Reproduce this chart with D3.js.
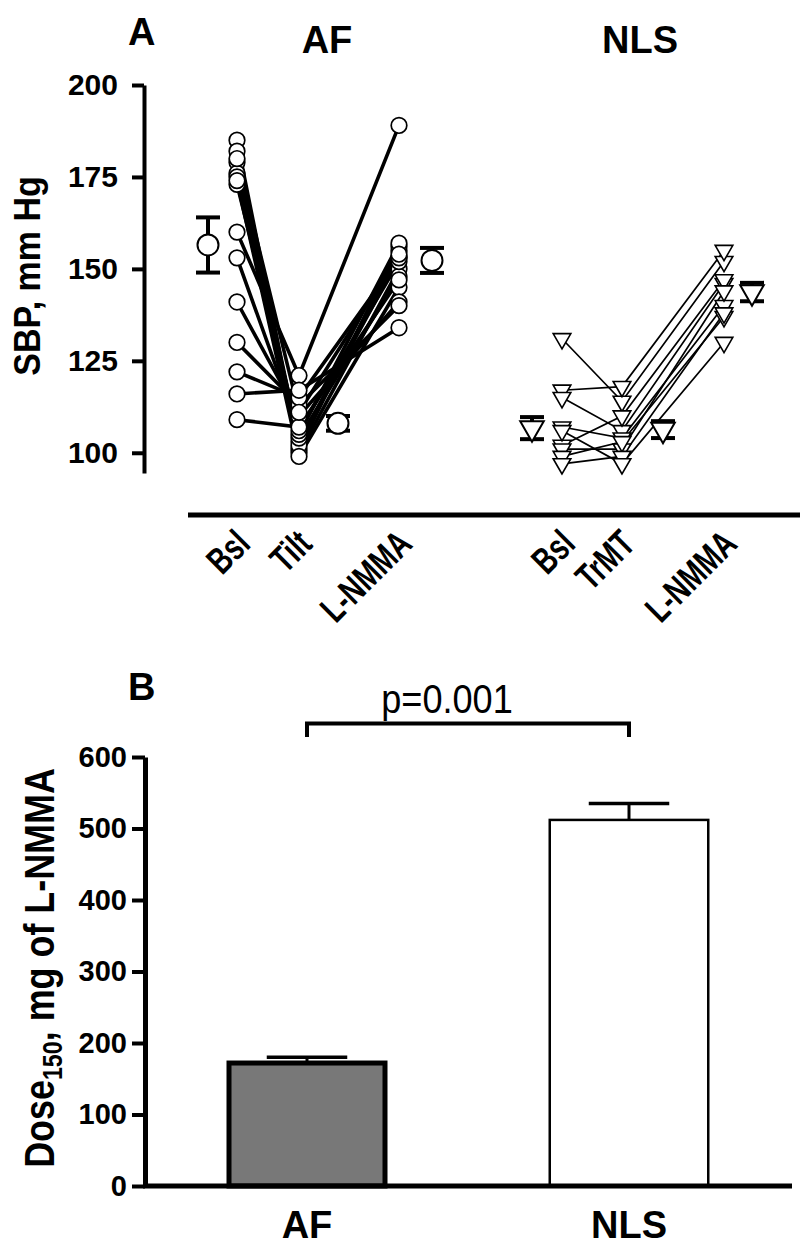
<!DOCTYPE html>
<html><head><meta charset="utf-8">
<script src="https://cdn.jsdelivr.net/npm/d3@7"></script>
<style>
body{margin:0;background:#fff}
svg{display:block}
text{font-family:"Liberation Sans",Arial,Helvetica,sans-serif}
</style>
</head><body>
<svg id="chart" width="800" height="1250"></svg>
<script>
// ---------------- DATA ----------------
// Panel A: systolic blood pressure (mm Hg), one entry per subject
const afCategories  = ["Bsl", "Tilt", "L-NMMA"];
const nlsCategories = ["Bsl", "TrMT", "L-NMMA"];

const afBsl    = [185, 182, 179, 176, 175, 173, 174, 160, 153, 141, 130, 122, 116, 109, 180];
const afTilt   = [101, 103, 100, 102, 104, 105,  99, 121, 106, 110, 113, 115, 117, 107, 111];
const afLnmma  = [156, 153, 150, 155, 148, 157, 145, 189, 152, 141, 140, 153, 134, 147, 154];

const nlsBsl   = [131, 117, 115, 107, 102, 101,  99,  97, 106];
const nlsTrmt  = [114, 118, 106, 104, 110, 101, 103,  99,  97];
const nlsLnmma = [152, 155, 146, 140, 147, 144, 137, 138, 130];

const afMean  = [156.5, 108.0, 152.3];
const afSem   = [7.5, 2.0, 3.4];
const nlsMean = [106.7, 106.3, 143.7];
const nlsSem  = [3.0, 2.3, 2.5];

const yTicksA = [100, 125, 150, 175, 200];

// Panel B: Dose150 (mg of L-NMMA)
const barGroups = ["AF", "NLS"];
const barMeans  = [172, 512];
const barSems   = [8, 23];
const yTicksB   = [0, 100, 200, 300, 400, 500, 600];
const pText     = "p=0.001";

// ---------------- LAYOUT ----------------
const svg = d3.select("#chart");
const FONT = '"Liberation Sans",Arial,Helvetica,sans-serif';

// Panel A scales
const yA = d3.scaleLinear().domain([94.5, 200]).range([473, 85]);
const colKeys = ["AF-Bsl-m","AF-Bsl","AF-Tilt","AF-Tilt-m","AF-L-NMMA","AF-L-NMMA-m",
                 "NLS-Bsl-m","NLS-Bsl","NLS-TrMT","NLS-TrMT-m","NLS-L-NMMA","NLS-L-NMMA-m"];
const xA = d3.scaleOrdinal().domain(colKeys)
  .range([208, 237, 299, 338, 399, 432, 532, 562, 622, 663, 724, 752]);

// Y axis A
const gyA = svg.append("g").attr("transform", "translate(144,0)")
  .call(d3.axisLeft(yA).tickValues(yTicksA).tickSize(12).tickSizeOuter(0).tickPadding(14));
gyA.select(".domain").attr("stroke", "#000").attr("stroke-width", 4);
gyA.selectAll(".tick line").attr("stroke", "#000").attr("stroke-width", 4);
gyA.selectAll(".tick text").attr("font-family", FONT).attr("font-weight", "bold")
  .attr("font-size", 30).attr("fill", "#000");

svg.append("text").attr("transform", "translate(40,276) rotate(-90) scale(1,1.08)")
  .attr("text-anchor", "middle").attr("font-weight", "bold").attr("font-size", 34)
  .text("SBP, mm Hg");

// X axis line A
svg.append("line").attr("x1", 188).attr("x2", 800).attr("y1", 515).attr("y2", 515)
  .attr("stroke", "#000").attr("stroke-width", 5);

// Titles
svg.append("text").attr("x", 128).attr("y", 45).attr("font-weight", "bold").attr("font-size", 38).text("A");
svg.append("text").attr("x", 327).attr("y", 53).attr("text-anchor", "middle").attr("font-weight", "bold").attr("font-size", 38).text("AF");
svg.append("text").attr("x", 640).attr("y", 53).attr("text-anchor", "middle").attr("font-weight", "bold").attr("font-size", 38).text("NLS");

// Category labels (rotated)
const catLabels = afCategories.map(c => ({key: "AF-" + c, text: c}))
  .concat(nlsCategories.map(c => ({key: "NLS-" + c, text: c})));
svg.selectAll("text.cat").data(catLabels).join("text").attr("class", "cat")
  .attr("transform", d => `translate(${xA(d.key) + 15},${546}) rotate(-45) scale(0.88,1.2)`)
  .attr("text-anchor", "end").attr("font-weight", "bold").attr("font-size", 31)
  .text(d => d.text);

// AF subject lines
const afSubjects = afBsl.map((b, i) => [b, afTilt[i], afLnmma[i]]);
const afLine = d3.line().x((d, i) => xA("AF-" + afCategories[i])).y(d => yA(d));
svg.append("g").selectAll("path").data(afSubjects).join("path")
  .attr("d", afLine).attr("fill", "none").attr("stroke", "#000").attr("stroke-width", 3.6);

const afPts = afSubjects.flatMap(s => s.map((v, i) => ({k: "AF-" + afCategories[i], v})));
svg.append("g").selectAll("circle").data(afPts).join("circle")
  .attr("cx", d => xA(d.k)).attr("cy", d => yA(d.v)).attr("r", 7.8)
  .attr("fill", "#fff").attr("stroke", "#000").attr("stroke-width", 1.7);

// NLS subject lines
const nlsSubjects = nlsBsl.map((b, i) => [b, nlsTrmt[i], nlsLnmma[i]]);
const nlsLine = d3.line().x((d, i) => xA("NLS-" + nlsCategories[i])).y(d => yA(d));
svg.append("g").selectAll("path").data(nlsSubjects).join("path")
  .attr("d", nlsLine).attr("fill", "none").attr("stroke", "#000").attr("stroke-width", 1.7);

const triSmall = d3.symbol().type(d3.symbolTriangle).size(135);
const triBig = d3.symbol().type(d3.symbolTriangle).size(240);
const nlsPts = nlsSubjects.flatMap(s => s.map((v, i) => ({k: "NLS-" + nlsCategories[i], v})));
svg.append("g").selectAll("path").data(nlsPts).join("path")
  .attr("d", triSmall)
  .attr("transform", d => `translate(${xA(d.k)},${yA(d.v)}) rotate(180)`)
  .attr("fill", "#fff").attr("stroke", "#000").attr("stroke-width", 1.6);

// Mean +/- SEM markers
function errBar(g, x, m, s, half, w) {
  g.append("line").attr("x1", x).attr("x2", x).attr("y1", yA(m + s)).attr("y2", yA(m - s))
    .attr("stroke", "#000").attr("stroke-width", w);
  [m + s, m - s].forEach(v => g.append("line").attr("x1", x - half).attr("x2", x + half)
    .attr("y1", yA(v)).attr("y2", yA(v)).attr("stroke", "#000").attr("stroke-width", w));
}
const gm = svg.append("g");
afCategories.forEach((c, i) => {
  const x = xA("AF-" + c + "-m");
  errBar(gm, x, afMean[i], afSem[i], 12, 4);
  gm.append("circle").attr("cx", x).attr("cy", yA(afMean[i])).attr("r", 10.5)
    .attr("fill", "#fff").attr("stroke", "#000").attr("stroke-width", 2);
});
nlsCategories.forEach((c, i) => {
  const x = xA("NLS-" + c + "-m");
  errBar(gm, x, nlsMean[i], nlsSem[i], 12, 4);
  gm.append("path").attr("d", triBig)
    .attr("transform", `translate(${x},${yA(nlsMean[i])}) rotate(180)`)
    .attr("fill", "#fff").attr("stroke", "#000").attr("stroke-width", 2);
});

// ---------------- PANEL B ----------------
const yB = d3.scaleLinear().domain([0, 600]).range([1186, 757]);
const xB = d3.scaleBand().domain(barGroups).range([146, 790]).paddingInner(0.5).paddingOuter(0.25);

// bars
const bars = barGroups.map((g, i) => ({g, v: barMeans[i], s: barSems[i]}));
const gb = svg.append("g");
bars.forEach((d, i) => {
  const x0 = xB(d.g), bw = xB.bandwidth(), cx = x0 + bw / 2;
  const sw = i === 0 ? 5 : 2.5;
  gb.append("line").attr("x1", cx).attr("x2", cx).attr("y1", yB(d.v)).attr("y2", yB(d.v + d.s))
    .attr("stroke", "#000").attr("stroke-width", 3);
  gb.append("line").attr("x1", cx - bw / 4).attr("x2", cx + bw / 4)
    .attr("y1", yB(d.v + d.s)).attr("y2", yB(d.v + d.s)).attr("stroke", "#000").attr("stroke-width", 3.5);
  gb.append("rect").attr("x", x0 + sw / 2).attr("y", yB(d.v))
    .attr("width", bw - sw).attr("height", yB(0) - yB(d.v))
    .attr("fill", i === 0 ? "#787878" : "#fff").attr("stroke", "#000").attr("stroke-width", sw);
});

const gyB = svg.append("g").attr("transform", "translate(145,0)")
  .call(d3.axisLeft(yB).tickValues(yTicksB).tickSize(13).tickSizeOuter(0).tickPadding(5));
gyB.select(".domain").attr("stroke", "#000").attr("stroke-width", 5);
gyB.selectAll(".tick line").attr("stroke", "#000").attr("stroke-width", 4);
gyB.selectAll(".tick text").attr("font-family", FONT).attr("font-weight", "bold")
  .attr("font-size", 29).attr("fill", "#000");

svg.append("line").attr("x1", 143).attr("x2", 792).attr("y1", yB(0)).attr("y2", yB(0))
  .attr("stroke", "#000").attr("stroke-width", 5);

svg.selectAll("text.bx").data(barGroups).join("text").attr("class", "bx")
  .attr("x", d => xB(d) + xB.bandwidth() / 2).attr("y", 1238)
  .attr("text-anchor", "middle").attr("font-weight", "bold").attr("font-size", 38).text(d => d);

const yl = svg.append("text").attr("transform", "translate(54,968) rotate(-90) scale(0.97,1.15)")
  .attr("text-anchor", "middle").attr("font-weight", "bold").attr("font-size", 37);
yl.append("tspan").text("Dose");
yl.append("tspan").attr("font-size", 24).attr("dy", 7).text("150");
yl.append("tspan").attr("dy", -7).text(", mg of L-NMMA");

svg.append("text").attr("x", 128).attr("y", 700).attr("font-weight", "bold").attr("font-size", 38).text("B");

// significance bracket
const c1 = xB("AF") + xB.bandwidth() / 2, c2 = xB("NLS") + xB.bandwidth() / 2;
svg.append("path")
  .attr("d", `M${c1},${yB(628)}V${yB(647)}H${c2}V${yB(628)}`)
  .attr("fill", "none").attr("stroke", "#000").attr("stroke-width", 4);
svg.append("text").attr("transform", `translate(${c1 + 140},713) scale(0.95,1.05)`)
  .attr("text-anchor", "middle").attr("font-size", 38).text(pText);
</script>
</body></html>
